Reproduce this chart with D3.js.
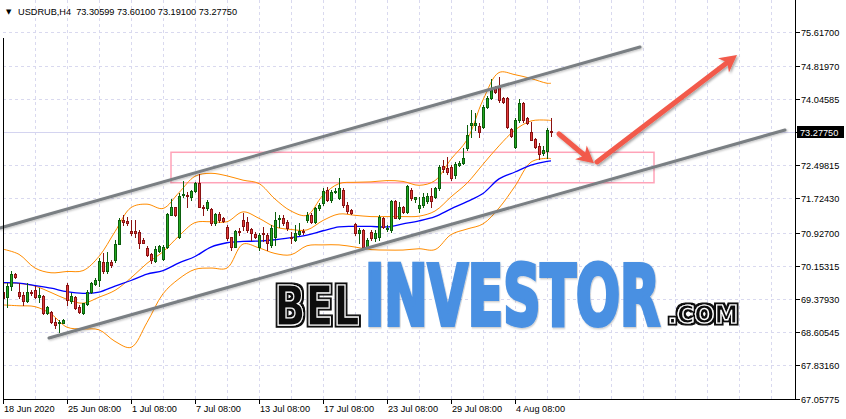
<!DOCTYPE html>
<html><head><meta charset="utf-8">
<script src="https://cdn.jsdelivr.net/npm/d3@7"></script>
<style>html,body{margin:0;padding:0;background:#fff;}svg{display:block;}</style>
</head><body>
<svg id="chart" width="846" height="419"></svg>
<script>
// ---- data (USDRUB H4) ----
const open = [69.54,69.43,69.67,69.96,69.53,69.47,69.34,69.55,69.59,69.43,
69.45,69.05,69.08,68.85,68.81,68.83,69.71,69.34,69.43,69.20,
69.05,69.26,69.55,69.73,69.82,70.25,70.02,70.25,70.29,70.67,
71.22,71.20,70.97,70.97,70.93,70.75,70.56,70.43,70.27,70.50,
70.30,70.58,71.34,71.52,70.83,71.80,71.81,71.76,71.90,72.08,
71.53,71.49,71.47,71.14,71.36,71.26,71.06,70.82,70.60,70.97,
71.22,71.18,71.00,70.89,70.60,70.92,70.87,70.64,70.83,71.24,
71.26,71.18,70.83,70.75,70.89,70.97,71.22,71.34,71.18,71.49,
71.61,71.92,71.69,71.87,71.73,71.92,71.57,71.45,71.12,70.91,
70.99,70.60,70.95,70.80,70.83,71.26,71.01,70.99,71.66,71.26,
71.53,71.41,71.92,71.72,71.49,71.57,71.66,71.78,71.76,71.96,
72.48,72.43,72.46,72.27,72.50,72.55,72.89,73.44,73.44,73.41,
73.40,73.86,74.06,74.29,74.33,74.06,74.06,73.34,72.93,73.55,
73.94,73.59,73.28,73.10,72.95,72.78,72.84,73.30599];
const high = [69.64,69.75,70.02,69.99,69.75,69.55,69.76,69.59,69.67,69.63,
69.47,69.22,69.11,68.93,68.89,68.92,69.76,69.51,69.45,69.24,
69.29,69.59,69.78,69.86,70.33,70.44,70.48,70.29,70.75,71.26,
71.34,71.30,71.22,71.22,70.99,70.79,70.61,70.46,70.61,70.64,
70.64,71.38,71.70,71.53,71.84,72.14,71.88,71.92,72.11,72.29,
71.57,71.69,71.49,71.39,71.41,71.30,71.10,70.83,70.99,71.03,
71.38,71.30,71.04,70.95,70.91,71.06,70.91,71.10,71.41,71.34,
71.34,71.22,70.95,71.10,71.14,71.01,71.41,71.38,71.53,71.61,
71.96,72.00,71.92,71.96,72.19,71.96,71.64,71.48,71.14,71.03,
71.01,70.79,70.99,70.99,71.34,71.30,71.10,71.69,71.69,71.64,
71.55,72.04,71.96,71.76,71.76,71.84,71.84,71.96,72.00,72.50,
72.62,72.69,72.50,72.57,72.60,72.90,73.44,73.79,73.71,73.48,
73.90,74.11,74.50,74.35,74.56,74.10,74.09,73.37,73.60,74.04,
73.97,73.62,73.51,73.13,73.01,72.95,73.36,73.60100];
const low = [69.31,69.20,69.59,69.86,69.40,69.24,69.32,69.47,69.41,69.32,
69.03,69.03,68.81,68.70,68.62,68.81,69.24,69.28,69.14,69.06,
69.03,69.24,69.51,69.71,69.67,69.98,69.98,70.13,70.25,70.67,
71.10,71.10,70.87,70.83,70.56,70.68,70.37,70.21,70.25,70.48,
70.29,70.56,71.33,71.31,70.79,71.76,71.53,71.69,71.88,71.52,
71.34,71.45,71.10,71.10,71.18,71.18,70.75,70.52,70.58,70.87,
70.99,70.95,70.75,70.81,70.52,70.72,70.52,70.60,70.64,71.06,
71.10,70.99,70.68,70.72,70.87,70.89,71.18,71.14,71.14,71.45,
71.57,71.66,71.64,71.84,71.72,71.53,71.38,71.35,70.87,70.69,
70.58,70.56,70.75,70.73,70.75,71.03,70.96,70.95,71.26,71.25,
71.38,71.38,71.69,71.65,71.41,71.53,71.62,71.53,71.73,71.92,
72.35,72.29,72.15,72.20,72.48,72.53,72.85,73.16,73.32,73.16,
73.37,73.83,74.04,74.18,73.98,73.95,73.37,73.16,72.89,73.51,
73.51,73.45,73.08,72.89,72.64,72.74,72.66,73.19100];
const close = [69.40,69.67,69.96,69.90,69.45,69.34,69.55,69.51,69.43,69.47,
69.05,69.20,68.85,68.77,68.85,68.90,69.36,69.45,69.16,69.08,
69.28,69.55,69.75,69.82,70.27,70.02,70.25,70.17,70.67,71.22,
71.18,71.16,70.91,70.92,70.69,70.69,70.41,70.29,70.54,70.61,
70.60,71.36,71.52,71.34,71.78,71.83,71.77,71.90,72.08,71.53,
71.49,71.64,71.14,71.36,71.22,71.20,70.79,70.58,70.97,70.93,
71.07,70.99,70.91,70.83,70.87,70.89,70.69,71.03,71.22,71.27,
71.14,71.03,70.79,70.91,70.97,70.93,71.34,71.17,71.49,71.57,
71.90,71.69,71.88,71.90,71.96,71.57,71.43,71.38,70.91,70.99,
70.60,70.75,70.79,70.92,71.30,71.06,71.04,71.66,71.27,71.53,
71.41,72.02,71.73,71.75,71.57,71.76,71.79,71.66,71.96,72.45,
72.40,72.34,72.19,72.53,72.55,72.67,73.20,73.48,73.49,73.28,
73.86,74.06,74.25,74.21,74.02,73.98,73.40,73.18,73.55,73.94,
73.55,73.48,73.09,72.92,72.76,72.85,73.32,73.27750];

// indicator readings (sampled at bar indices)
const bandIdx = [0,4,8,12,16,20,24,28,32,36,40,44,48,52,56,60,64,68,72,76,80,84,88,92,96,100,104,108,112,116,120,124,128,132,136,137];
const upperBand = [70.54,70.42,70.10,69.99,70.02,70.04,70.37,70.95,71.51,71.59,71.49,71.86,72.24,72.31,72.25,72.15,72.07,71.71,71.43,71.33,71.80,72.07,72.10,72.11,72.14,72.12,72.03,72.14,72.64,73.09,74.02,74.66,74.61,74.52,74.41,74.41];
const middleBand = [69.75,69.74,69.68,69.53,69.37,69.28,69.42,69.58,69.87,70.21,70.48,70.85,71.16,71.18,71.18,71.41,71.26,71.06,71.00,70.99,71.21,71.36,71.33,71.30,71.30,71.30,71.31,71.43,71.76,72.08,72.52,72.95,73.32,73.53,73.55,73.54];
const lowerBand = [69.24,69.22,69.20,69.03,68.72,68.68,68.66,68.39,68.25,68.83,69.50,69.85,70.07,70.10,70.10,70.66,70.57,70.44,70.41,70.62,70.64,70.64,70.59,70.53,70.52,70.52,70.55,70.53,70.88,71.01,71.13,71.50,72.01,72.57,72.66,72.65];
const maLine = [69.76,69.75,69.69,69.63,69.55,69.51,69.54,69.68,69.81,69.96,70.04,70.22,70.37,70.59,70.69,70.72,70.73,70.76,70.81,70.87,70.97,71.06,71.07,71.07,71.06,71.13,71.20,71.30,71.48,71.65,71.84,72.18,72.34,72.50,72.59,72.60];

// axis labels
const priceTicks = [75.617,74.8197,74.04585,73.2775,72.49815,71.7243,70.927,70.15315,69.3793,68.60545,67.8316,67.05775];
const bidPrice = 73.2775;
const timeLabels = ["18 Jun 2020","25 Jun 08:00","1 Jul 08:00","7 Jul 08:00","13 Jul 08:00","17 Jul 08:00","23 Jul 08:00","29 Jul 08:00","4 Aug 08:00"];
const timeLabelIdx = [0,16,32,48,64,80,96,112,128];
const header = "USDRUB,H4  73.30599 73.60100 73.19100 73.27750";

// drawn objects (bar index, price)
const channelUpper = [[-0.75,71.035],[159.25,75.256]];
const channelLower = [[11.5,68.469],[195.5,73.320]];
const zoneRect = {i0:42, i1:162.75, p0:72.80, p1:72.09};
const arrowDown = [[139,73.227],[147.75,72.544]];
const arrowUp = [[148.5,72.574],[183.5,75.069]];

// ---- scales ----
const x = d3.scaleLinear().domain([0,137]).range([3,551]);
const y = d3.scaleLinear().domain([67.05775,75.617]).range([398.5,31.5]);
const L = 3, R = 795, B = 399;

const svg = d3.select('#chart');
const defs = svg.append('defs');
const f1 = defs.append('filter').attr('id','sh').attr('x','-20%').attr('y','-20%').attr('width','140%').attr('height','140%');
f1.append('feDropShadow').attr('dx',1.5).attr('dy',1.5).attr('stdDeviation',1.2).attr('flood-color','#000').attr('flood-opacity',0.35);
const f2 = defs.append('filter').attr('id','sh2').attr('x','-20%').attr('y','-20%').attr('width','140%').attr('height','140%');
f2.append('feDropShadow').attr('dx',1).attr('dy',1).attr('stdDeviation',1).attr('flood-color','#000').attr('flood-opacity',0.25);
const f3 = defs.append('filter').attr('id','outl').attr('x','-10%').attr('y','-20%').attr('width','120%').attr('height','140%');
f3.append('feMorphology').attr('in','SourceAlpha').attr('operator','dilate').attr('radius',2).attr('result','d');
f3.append('feFlood').attr('flood-color','#111').attr('result','fl');
f3.append('feComposite').attr('in','fl').attr('in2','d').attr('operator','in').attr('result','o');
const fm = f3.append('feMerge');
fm.append('feMergeNode').attr('in','o');
fm.append('feMergeNode').attr('in','SourceGraphic');
const clip = defs.append('clipPath').attr('id','plot');
clip.append('rect').attr('x',L).attr('y',0).attr('width',R-L).attr('height',B);

const gridCol = '#d9d9ef';
const g = svg.append('g');
priceTicks.forEach(p=>{
  const yy = Math.round(y(p))+0.5;
  g.append('line').attr('x1',L).attr('x2',R).attr('y1',yy).attr('y2',yy)
   .attr('stroke',gridCol).attr('stroke-dasharray','3,3').attr('stroke-width',1);
});
for(let i=8;x(i)<R;i+=8){
  const xx = Math.round(x(i))+0.5;
  g.append('line').attr('x1',xx).attr('x2',xx).attr('y1',0).attr('y2',B)
   .attr('stroke',gridCol).attr('stroke-dasharray','3,3').attr('stroke-width',1);
}
const by = Math.round(y(bidPrice))+0.5;
g.append('line').attr('x1',L).attr('x2',R).attr('y1',by).attr('y2',by).attr('stroke','#d4d4f0').attr('stroke-width',1);

const plot = svg.append('g').attr('clip-path','url(#plot)');
plot.append('rect').attr('x',x(zoneRect.i0)).attr('y',y(zoneRect.p0))
  .attr('width',x(zoneRect.i1)-x(zoneRect.i0)).attr('height',y(zoneRect.p1)-y(zoneRect.p0))
  .attr('fill','none').attr('stroke','#ffa3b8').attr('stroke-width',1.5);

const lineGen = d3.line().x(d=>x(d[0])).y(d=>y(d[1])).curve(d3.curveCatmullRom.alpha(0.5));
[[upperBand,'#ff8c00',1],[middleBand,'#ff8c00',1],[lowerBand,'#ff8c00',1],[maLine,'#0000ff',1.3]].forEach(([arr,col,w])=>{
  plot.append('path').attr('d',lineGen(bandIdx.map((b,k)=>[b,arr[k]])))
    .attr('fill','none').attr('stroke',col).attr('stroke-width',w);
});

const cg = plot.append('g').attr('shape-rendering','crispEdges');
open.forEach((o,i)=>{
  const c = close[i], up = c>=o;
  const cx = Math.round(x(i));
  const stroke = up ? '#0b5e0b' : '#8a1212';
  const fill = up ? '#22a822' : '#e23c3c';
  cg.append('line').attr('x1',cx+0.5).attr('x2',cx+0.5)
    .attr('y1',Math.round(y(high[i]))).attr('y2',Math.round(y(low[i]))+1)
    .attr('stroke',stroke).attr('stroke-width',1);
  const top = Math.round(y(Math.max(o,c))), bot = Math.round(y(Math.min(o,c)));
  const h = Math.max(bot-top,1);
  cg.append('rect').attr('x',cx-0.5).attr('y',top+0.5).attr('width',2).attr('height',h)
    .attr('fill',fill).attr('stroke',stroke).attr('stroke-width',1);
});

[channelUpper,channelLower].forEach(seg=>{
  svg.append('line').attr('x1',x(seg[0][0])).attr('y1',y(seg[0][1]))
    .attr('x2',x(seg[1][0])).attr('y2',y(seg[1][1]))
    .attr('stroke','#7a7f83').attr('stroke-width',3).attr('stroke-linecap','round')
    .attr('filter','url(#sh2)');
});

function arrow(seg){
  const x1=x(seg[0][0]), y1=y(seg[0][1]), x2=x(seg[1][0]), y2=y(seg[1][1]);
  const dx=x2-x1, dy=y2-y1, len=Math.hypot(dx,dy), ux=dx/len, uy=dy/len;
  const hl=17, hw=9;
  const bx=x2-ux*hl, byy=y2-uy*hl;
  const ga = svg.append('g').attr('filter','url(#sh)');
  ga.append('line').attr('x1',x1).attr('y1',y1).attr('x2',x2-ux*hl*0.6).attr('y2',y2-uy*hl*0.6)
    .attr('stroke','#f25a4b').attr('stroke-width',5).attr('stroke-linecap','round');
  ga.append('path').attr('d',`M${x2},${y2}L${bx-uy*hw},${byy+ux*hw}L${x2-ux*hl*0.72},${y2-uy*hl*0.72}L${bx+uy*hw},${byy-ux*hw}Z`)
    .attr('fill','#f25a4b');
}
arrow(arrowDown);
arrow(arrowUp);

// logo: each word horizontally scaled to its measured width
const fam = '"Liberation Sans Narrow","DejaVu Sans Condensed","Liberation Sans",sans-serif';
const logo = svg.append('g');
function fitted(txt,xx,yy,fs,targetW){
  const t = logo.append('text').attr('x',0).attr('y',0).attr('font-family',fam)
    .attr('font-weight','bold').attr('font-size',fs).text(txt);
  const w = t.node().getComputedTextLength() || targetW;
  t.attr('transform',`translate(${xx},${yy}) scale(${targetW/w},1)`);
  return t;
}
fitted('INVESTOR',365,325,84,295)
  .attr('fill','#4a90e2').attr('stroke','#4a90e2').attr('stroke-width',4).attr('filter','url(#sh2)');
fitted('BEL',274.5,324.5,55,85)
  .attr('fill','#111').attr('stroke','#fff').attr('stroke-width',1.2).attr('filter','url(#outl)');
fitted('.COM',668,322.5,25,70)
  .attr('fill','#111').attr('stroke','#fff').attr('stroke-width',1.2).attr('filter','url(#outl)');

// frame
const fr = svg.append('g').attr('stroke','#000').attr('stroke-width',1).attr('shape-rendering','crispEdges');
fr.append('line').attr('x1',L+0.5).attr('x2',L+0.5).attr('y1',38).attr('y2',B+0.5);
fr.append('line').attr('x1',R+0.5).attr('x2',R+0.5).attr('y1',0).attr('y2',B+0.5);
fr.append('line').attr('x1',L).attr('x2',R+1).attr('y1',B+0.5).attr('y2',B+0.5);

const lblFont = '"Liberation Sans",Arial,sans-serif';
priceTicks.forEach(p=>{
  const yy = Math.round(y(p))+0.5;
  fr.append('line').attr('x1',R).attr('x2',R+5).attr('y1',yy).attr('y2',yy);
  if(p===bidPrice) return;
  svg.append('text').attr('x',801).attr('y',yy+3.3).attr('font-family',lblFont).attr('font-size',9.2)
    .attr('fill','#000').text(p.toFixed(5));
});
svg.append('rect').attr('x',797).attr('y',by-6.5).attr('width',47).attr('height',12).attr('fill','#000');
svg.append('text').attr('x',800).attr('y',by+3.3).attr('font-family',lblFont).attr('font-size',9.2)
  .attr('fill','#fff').text(bidPrice.toFixed(5));

timeLabels.forEach((t,k)=>{
  const xx = Math.round(x(timeLabelIdx[k]))+0.5;
  fr.append('line').attr('x1',xx).attr('x2',xx).attr('y1',B).attr('y2',B+5);
  svg.append('text').attr('x',xx+0.5).attr('y',412).attr('font-family',lblFont).attr('font-size',9.2)
    .attr('fill','#000').text(t);
});

svg.append('text').attr('x',6).attr('y',14).attr('font-family','"DejaVu Sans",sans-serif').attr('font-size',7).attr('fill','#000').text('\u25BC');
svg.append('text').attr('x',18).attr('y',14.5).attr('font-family',lblFont).attr('font-size',9.3)
  .attr('textLength',219).attr('lengthAdjust','spacingAndGlyphs').style('white-space','pre')
  .attr('fill','#000').text(header);
</script>
</body></html>
